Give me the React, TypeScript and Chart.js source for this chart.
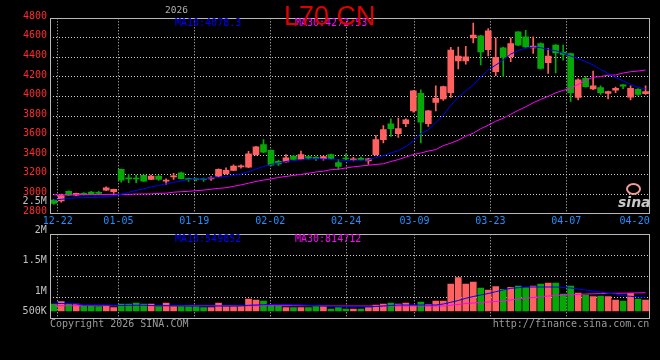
import React, { useEffect, useRef } from 'react';
import { Chart, registerables } from 'chart.js';

Chart.register(...registerables);

// ---------- data (index -1 = 12-19, 0 = 12-22 ... 78 = 04-22) ----------
const FIRST_INDEX = -1;

const opens = [
  2940, 2930, 3030, 2990, 3005, 3022, 3020, 3040, 3026, 3253,
  3168, 3165, 3192, 3151, 3185, 3132, 3177, 3219, 3155, 3155,
  3158, 3155, 3185, 3209, 3243, 3278, 3276, 3405, 3507, 3449,
  3335, 3331, 3389, 3355, 3385, 3378, 3362, 3405, 3324, 3370,
  3350, 3368, 3340, 3405, 3558, 3721, 3619, 3721, 3853, 4033,
  3721, 3938, 3976, 4040, 4365, 4365, 4600, 4620, 4480, 4253,
  4498, 4406, 4661, 4610, 4498, 4542, 4345, 4525, 4455, 4440,
  3989, 4186, 4077, 4091, 4030, 4065, 4118, 3993, 4074, 4028,
];
const closes = [
  2905, 2985, 2990, 3008, 2998, 3000, 3008, 3066, 3049, 3144,
  3155, 3155, 3134, 3185, 3151, 3143, 3185, 3158, 3148, 3148,
  3150, 3168, 3253, 3243, 3287, 3290, 3412, 3484, 3429, 3297,
  3310, 3372, 3355, 3405, 3368, 3362, 3385, 3365, 3285, 3360,
  3362, 3352, 3362, 3558, 3660, 3670, 3670, 3762, 4057, 3738,
  3853, 3982, 4101, 4474, 4413, 4406, 4627, 4457, 4671, 4400,
  4400, 4542, 4525, 4508, 4515, 4288, 4413, 4445, 4430, 4040,
  4169, 4101, 4108, 4040, 4050, 4084, 4105, 4084, 4020, 4050,
];
const highs = [
  2948, 3000, 3035, 3012, 3015, 3030, 3030, 3075, 3052, 3256,
  3202, 3195, 3196, 3195, 3190, 3158, 3212, 3225, 3165, 3165,
  3165, 3180, 3258, 3270, 3300, 3300, 3439, 3490, 3558, 3455,
  3350, 3405, 3395, 3440, 3392, 3385, 3390, 3410, 3355, 3412,
  3378, 3380, 3368, 3600, 3701, 3772, 3779, 3770, 4060, 4067,
  3858, 4108, 4105, 4502, 4505, 4513, 4752, 4625, 4695, 4600,
  4505, 4600, 4665, 4678, 4610, 4548, 4491, 4530, 4525, 4445,
  4180, 4205, 4261, 4110, 4055, 4095, 4122, 4110, 4080, 4110,
];
const lows = [
  2895, 2918, 2985, 2985, 2990, 2992, 3000, 3035, 3008, 3123,
  3117, 3117, 3130, 3148, 3140, 3100, 3151, 3155, 3130, 3135,
  3130, 3140, 3180, 3205, 3240, 3265, 3270, 3400, 3425, 3290,
  3295, 3328, 3350, 3352, 3355, 3345, 3348, 3360, 3253, 3350,
  3340, 3345, 3305, 3400, 3524, 3592, 3582, 3690, 3840, 3525,
  3694, 3853, 3960, 3989, 4281, 4330, 4549, 4322, 4416, 4213,
  4205, 4355, 4520, 4500, 4440, 4280, 4237, 4240, 4372, 3950,
  3965, 4095, 4070, 4020, 3975, 4040, 4080, 3965, 4010, 4020,
];
const ma10 = [
  2942, 2947, 2957, 2962, 2965, 2965, 2968, 2973, 2983, 2998,
  3018, 3039, 3054, 3074, 3090, 3105, 3120, 3136, 3148, 3156,
  3156, 3166, 3171, 3181, 3192, 3207, 3229, 3258, 3283, 3304,
  3319, 3334, 3344, 3351, 3356, 3362, 3360, 3354, 3349, 3344,
  3347, 3347, 3349, 3375, 3395, 3421, 3446, 3487, 3543, 3619,
  3660, 3731, 3807, 3909, 3991, 4057, 4118, 4199, 4271, 4322,
  4372, 4434, 4469, 4495, 4505, 4500, 4479, 4469, 4444, 4413,
  4388, 4357, 4322, 4276, 4235, 4194, 4159, 4123, 4092, 4078,
];
const ma30 = [
  2993, 2993, 2994, 2995, 2995, 2996, 2996, 2997, 2998, 2998,
  2998, 3001, 3002, 3003, 3008, 3010, 3020, 3025, 3029, 3036,
  3041, 3051, 3059, 3066, 3080, 3095, 3112, 3130, 3144, 3156,
  3171, 3181, 3192, 3202, 3214, 3227, 3235, 3250, 3256, 3268,
  3280, 3288, 3296, 3304, 3311, 3334, 3354, 3380, 3405, 3421,
  3441, 3456, 3497, 3522, 3553, 3593, 3624, 3670, 3706, 3746,
  3777, 3818, 3858, 3894, 3935, 3970, 4001, 4037, 4062, 4084,
  4123, 4164, 4196, 4204, 4217, 4220, 4240, 4253, 4260, 4271,
];
const volumes = [
  280000, 372000, 280000, 280000, 200000, 200000, 172000, 200000, 132000, 280000,
  280000, 320000, 280000, 280000, 172000, 320000, 172000, 172000, 172000, 172000,
  132000, 132000, 320000, 172000, 172000, 172000, 480000, 440000, 400000, 240000,
  200000, 132000, 132000, 132000, 132000, 172000, 172000, 80000, 132000, 80000,
  80000, 80000, 132000, 240000, 280000, 320000, 280000, 320000, 212000, 360000,
  268000, 400000, 400000, 1080000, 1332000, 1080000, 1160000, 920000, 840000, 972000,
  868000, 948000, 1000000, 932000, 1000000, 1080000, 1120000, 1120000, 680000, 1000000,
  720000, 640000, 572000, 600000, 572000, 440000, 400000, 708000, 480000, 440000,
];
const volMa10 = [
  300000, 300000, 300000, 280000, 240000, 240000, 240000, 240000, 228000, 220000,
  228000, 228000, 228000, 220000, 212000, 212000, 212000, 212000, 200000, 200000,
  200000, 200000, 200000, 200000, 200000, 212000, 228000, 240000, 252000, 252000,
  260000, 260000, 252000, 240000, 228000, 212000, 200000, 188000, 172000, 172000,
  172000, 172000, 172000, 180000, 200000, 220000, 240000, 240000, 240000, 240000,
  240000, 240000, 280000, 348000, 420000, 508000, 580000, 640000, 700000, 772000,
  840000, 908000, 932000, 960000, 960000, 960000, 960000, 960000, 940000, 920000,
  880000, 840000, 800000, 760000, 708000, 680000, 612000, 588000, 560000, 550000,
];
const volMa30 = [
  212000, 212000, 212000, 212000, 212000, 212000, 212000, 212000, 212000, 212000,
  212000, 212000, 212000, 212000, 212000, 212000, 212000, 212000, 212000, 212000,
  212000, 212000, 212000, 212000, 212000, 212000, 212000, 212000, 212000, 212000,
  212000, 212000, 212000, 212000, 212000, 212000, 212000, 200000, 200000, 200000,
  200000, 200000, 200000, 200000, 200000, 200000, 200000, 200000, 200000, 200000,
  200000, 200000, 200000, 232000, 260000, 300000, 320000, 340000, 360000, 380000,
  400000, 440000, 480000, 512000, 540000, 572000, 600000, 620000, 640000, 652000,
  664000, 680000, 688000, 696000, 704000, 708000, 712000, 720000, 724000, 732000,
];

const dateTickLabels = ['12-22', '01-05', '01-19', '02-02', '02-24', '03-09', '03-23', '04-07', '04-20'];
const dateTickIndex = [0, 8, 18, 28, 38, 47, 57, 67, 76];
const PRICE_MIN = 2800;
const PRICE_MAX = 4800;
const PRICE_STEP = 200;
const volAxisLabels = ['2M', '1.5M', '1M', '500K'];
const MA10_LABEL = 'MA10:4078.3';
const MA30_LABEL = 'MA30:4272.53';
const VOL_MA10_LABEL = 'MA10:549852';
const VOL_MA30_LABEL = 'MA30:814712';
const TITLE = 'L70 CN';

// ---------- layout / style ----------
const UP = '#ff6060';
const DOWN = '#05a805';
const GRID = '#cfcfcf';
const FRAME = '#b8b8b8';
const MONO = '"DejaVu Sans Mono", monospace';
const X_MIN = -1.5;
const X_MAX = 78.5;
const GRID_ORIGIN = -0.473;
const GRID_RATIO = 1.01333;
const VOL_MIN = -292000;
const VOL_MAX = 3068000;

const xIdx = opens.map((_, k) => FIRST_INDEX + k);
const candleColors = opens.map((o, k) => (closes[k] >= o ? UP : DOWN));
const gridPos = (i: number) => GRID_ORIGIN + i * GRID_RATIO;

const framePlugin = {
  id: 'frame',
  afterDraw(chart: any) {
    const { ctx, chartArea } = chart;
    const l = Math.floor(chartArea.left) + 0.5;
    const t = Math.floor(chartArea.top) + 0.5;
    const r = Math.floor(chartArea.right) + 0.5;
    const b = Math.floor(chartArea.bottom) + 0.5;
    ctx.save();
    ctx.strokeStyle = FRAME;
    ctx.lineWidth = 1;
    ctx.setLineDash([]);
    ctx.strokeRect(l, t, r - l, b - t);
    ctx.restore();
  },
};

const xScale = (showLabels: boolean, height: number) => ({
  type: 'linear',
  min: X_MIN,
  max: X_MAX,
  offset: false,
  afterBuildTicks: (s: any) => {
    s.ticks = dateTickIndex.map((i) => ({ value: gridPos(i) }));
  },
  afterFit: (s: any) => {
    s.height = height;
  },
  ticks: {
    display: showLabels,
    autoSkip: false,
    maxRotation: 0,
    minRotation: 0,
    color: '#1e90ff',
    font: { family: MONO, size: 10 },
    padding: 2,
    callback: (_v: any, i: number) => dateTickLabels[i],
  },
  grid: {
    offset: false,
    drawTicks: false,
    lineWidth: 1,
    color: (c: any) => (c.index === dateTickIndex.length - 1 ? 'rgba(0,0,0,0)' : GRID),
  },
  border: { display: false, dash: [1, 2] },
});

function mainConfig(): any {
  return {
    type: 'bar',
    data: {
      datasets: [
        {
          type: 'line', label: 'MA10', order: 0,
          data: xIdx.map((x, k) => ({ x, y: ma10[k] })),
          borderColor: '#0000ff', borderWidth: 1, pointRadius: 0, tension: 0,
        },
        {
          type: 'line', label: 'MA30', order: 0,
          data: xIdx.map((x, k) => ({ x, y: ma30[k] })),
          borderColor: '#ff00ff', borderWidth: 1, pointRadius: 0, tension: 0,
        },
        {
          type: 'bar', label: 'body', order: 1, grouped: false,
          data: xIdx.map((x, k) => ({ x, y: [opens[k], closes[k]] })),
          backgroundColor: candleColors, borderWidth: 0, barThickness: 6, minBarLength: 1,
        },
        {
          type: 'bar', label: 'wick', order: 2, grouped: false,
          data: xIdx.map((x, k) => ({ x, y: [lows[k], highs[k]] })),
          backgroundColor: candleColors, borderWidth: 0, barThickness: 1, minBarLength: 1,
        },
      ],
    },
    options: {
      responsive: false,
      animation: false,
      devicePixelRatio: 1,
      layout: { padding: { top: 18.3, right: 10.7, left: 0, bottom: 0 } },
      plugins: { legend: { display: false }, tooltip: { enabled: false } },
      scales: {
        x: xScale(true, 18.3),
        y: {
          type: 'linear',
          min: PRICE_MIN,
          max: PRICE_MAX,
          afterFit: (s: any) => { s.width = 50; },
          ticks: {
            stepSize: PRICE_STEP,
            color: '#ff2a2a',
            font: { family: MONO, size: 10 },
            padding: 3,
            labelOffset: -2,
            callback: (v: any) => String(v),
          },
          grid: { drawTicks: false, color: GRID, lineWidth: 1 },
          border: { display: false, dash: [1, 2] },
        },
      },
    },
    plugins: [framePlugin],
  };
}

function volConfig(): any {
  return {
    type: 'bar',
    data: {
      datasets: [
        {
          type: 'line', label: 'VMA10', order: 0,
          data: xIdx.map((x, k) => ({ x, y: volMa10[k] })),
          borderColor: '#0000ff', borderWidth: 1, pointRadius: 0, tension: 0,
        },
        {
          type: 'line', label: 'VMA30', order: 0,
          data: xIdx.map((x, k) => ({ x, y: volMa30[k] })),
          borderColor: '#ff00ff', borderWidth: 1, pointRadius: 0, tension: 0,
        },
        {
          type: 'bar', label: 'volume', order: 1, grouped: false,
          data: xIdx.map((x, k) => ({ x, y: volumes[k] })),
          backgroundColor: candleColors, borderWidth: 0, barThickness: 6,
        },
      ],
    },
    options: {
      responsive: false,
      animation: false,
      devicePixelRatio: 1,
      layout: { padding: { top: 8.3, right: 10.7, left: 0, bottom: 0 } },
      plugins: { legend: { display: false }, tooltip: { enabled: false } },
      scales: {
        x: xScale(false, 41.7),
        y: {
          type: 'linear',
          min: VOL_MIN,
          max: VOL_MAX,
          afterFit: (s: any) => { s.width = 50; },
          afterBuildTicks: (s: any) => {
            s.ticks = [0, 1, 2, 3, 4].map((k) => ({ value: VOL_MIN + (k * (VOL_MAX - VOL_MIN)) / 4 }));
          },
          ticks: { display: false },
          grid: { drawTicks: false, color: GRID, lineWidth: 1 },
          border: { display: false, dash: [1, 2] },
        },
      },
    },
    plugins: [framePlugin],
  };
}

const txt = (extra: React.CSSProperties): React.CSSProperties => ({
  position: 'absolute',
  fontFamily: MONO,
  fontSize: 10,
  lineHeight: '12px',
  whiteSpace: 'nowrap',
  ...extra,
});

export default function App() {
  const mainRef = useRef<HTMLCanvasElement>(null);
  const volRef = useRef<HTMLCanvasElement>(null);

  useEffect(() => {
    document.body.style.margin = '0';
    document.body.style.background = '#000';
    const main = new Chart(mainRef.current as HTMLCanvasElement, mainConfig());
    const vol = new Chart(volRef.current as HTMLCanvasElement, volConfig());
    return () => {
      main.destroy();
      vol.destroy();
    };
  }, []);

  const volLabelTops = [224, 254, 284.5, 304.5];

  return (
    <div style={{ position: 'fixed', left: 0, top: 0, width: 660, height: 360, background: '#000', overflow: 'hidden' }}>
      <canvas ref={mainRef} width={660} height={232} style={{ position: 'absolute', left: 0, top: 0, width: 660, height: 232 }} />
      <canvas ref={volRef} width={660} height={134} style={{ position: 'absolute', left: 0, top: 226, width: 660, height: 134 }} />

      <span style={txt({ left: 165, top: 4, fontSize: 9.5, color: '#b0b0b0' })}>2026</span>
      <span style={txt({ left: 175, top: 17.3, color: '#0000ff' })}>{MA10_LABEL}</span>
      <span style={txt({ left: 295, top: 17.3, color: '#ff00ff' })}>{MA30_LABEL}</span>
      <span style={txt({ left: 284, top: 3.2, fontFamily: '"Liberation Sans", Arial, sans-serif', fontSize: 27, lineHeight: '27px', color: '#e00000' })}>{TITLE}</span>

      <span style={txt({ right: 613.3, top: 194.5, color: '#c0c0c0', textAlign: 'right' })}>2.5M</span>
      {volAxisLabels.map((l, k) => (
        <span key={l} style={txt({ right: 613.3, top: volLabelTops[k], color: '#c0c0c0', textAlign: 'right' })}>{l}</span>
      ))}

      <span style={txt({ left: 175, top: 233, color: '#0000ff' })}>{VOL_MA10_LABEL}</span>
      <span style={txt({ left: 295, top: 233, color: '#ff00ff' })}>{VOL_MA30_LABEL}</span>

      <span style={txt({ left: 50, top: 317.5, color: '#9a9a9a' })}>Copyright 2026 SINA.COM</span>
      <span style={txt({ right: 10.7, top: 317.5, color: '#9a9a9a' })}>http://finance.sina.com.cn</span>

      <div style={{ position: 'absolute', left: 626, top: 183, width: 11, height: 8, border: '2px solid #f09c9c', borderRadius: '50%' }} />
      <span style={txt({ left: 618, top: 195, fontFamily: '"DejaVu Sans", sans-serif', fontWeight: 'bold', fontStyle: 'italic', fontSize: 14, lineHeight: '14px', color: '#c8c8c8' })}>sina</span>
    </div>
  );
}
